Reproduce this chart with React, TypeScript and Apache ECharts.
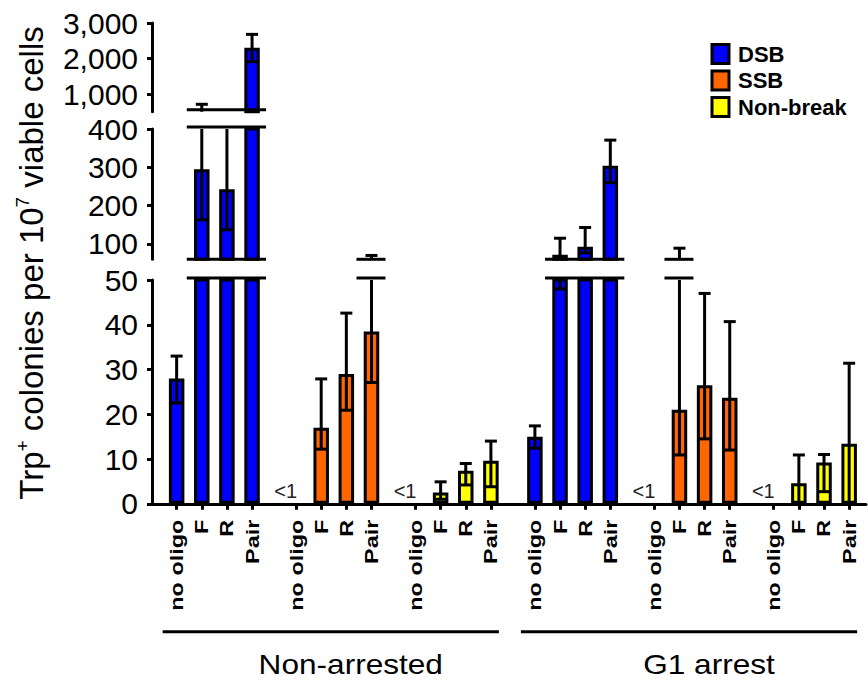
import React, { useEffect, useRef } from 'react';
import * as echarts from 'echarts';

const groups = ['Non-arrested', 'G1 arrest'];
const breakTypes = ['DSB', 'SSB', 'Non-break'];
const oligoLabels = ['no oligo', 'F', 'R', 'Pair'];
const typeColors = ['#0000FF', '#FF6600', '#FFFF00'];

// 8 entries each: Non-arrested (no oligo, F, R, Pair), then G1 arrest (same order); null = "<1"
const dsbMean = [28, 295, 243, 2300, 15, 72, 93, 304];
const dsbLow = [22.5, 163, 137, 1910, 12.4, 48, 77, 260];
const dsbHigh = [33, 710, 450, 2680, 17.4, 115, 143, 371];
const ssbMean = [null, 17, 29, 38.5, null, 21, 26.5, 23.7];
const ssbLow = [null, 12.2, 20.9, 27.1, null, 10.9, 14.5, 12];
const ssbHigh = [null, 27.9, 42.6, 70, null, 89, 47, 40.7];
const nonBreakMean = [null, 2.5, 7.4, 9.6, null, 4.6, 9.2, 13.4];
const nonBreakLow = [null, 1, 4.2, 3.8, null, 0, 2.7, 0];
const nonBreakHigh = [null, 4.9, 9, 14, null, 10.9, 11, 31.4];

const belowLabel = '<1';
const topTicks = [1000, 2000, 3000];
const midTicks = [100, 200, 300, 400];
const bottomTicks = [0, 10, 20, 30, 40, 50];

const FONT = '"Liberation Sans", Arial, Helvetica, sans-serif';

type Item = { x: number; mean: number | null; low: number | null; high: number | null; ti: number; gi: number; oi: number };

const tables = [
  { mean: dsbMean, low: dsbLow, high: dsbHigh },
  { mean: ssbMean, low: ssbLow, high: ssbHigh },
  { mean: nonBreakMean, low: nonBreakLow, high: nonBreakHigh },
];

const BLOCK_STEP = 4.75;
const items: Item[] = [];
groups.forEach((_g, gi) =>
  breakTypes.forEach((_t, ti) =>
    oligoLabels.forEach((_o, oi) => {
      const k = gi * 4 + oi;
      items.push({
        x: (gi * 3 + ti) * BLOCK_STEP + oi,
        mean: tables[ti].mean[k],
        low: tables[ti].low[k],
        high: tables[ti].high[k],
        ti,
        gi,
        oi,
      });
    })
  )
);

// segment ranges: 0 = top, 1 = middle, 2 = bottom
const segments = [
  { min: 500, max: 3000, top: 23, height: 88.75, ticks: topTicks },
  { min: 60, max: 400, top: 129, height: 130.3, ticks: midTicks },
  { min: 0, max: 50, top: 280, height: 223.75, ticks: bottomTicks },
];

const X_MIN = -0.98;
const X_MAX = 27.42;

function runsAbove(threshold: number): number[][] {
  const runs: number[][] = [];
  for (let b = 0; b < 6; b++) {
    let start: Item | null = null;
    let last: Item | null = null;
    for (let oi = 0; oi < 4; oi++) {
      const it = items[b * 4 + oi];
      const ext = Math.max(it.mean ?? 0, it.high ?? 0);
      if (ext > threshold) {
        if (!start) start = it;
        last = it;
      } else if (start && last) {
        runs.push([start.x, last.x]);
        start = null;
        last = null;
      }
    }
    if (start && last) runs.push([start.x, last.x]);
  }
  return runs;
}

function buildOption() {
  const grids = segments.map((s) => ({
    left: 152,
    right: 2,
    top: s.top,
    height: s.height,
    containLabel: false,
    outerBoundsMode: 'none',
  }));

  const xAxes = segments.map((_s, si) => ({
    type: 'value',
    gridIndex: si,
    min: X_MIN,
    max: X_MAX,
    show: si === 2,
    axisLine: { show: true, onZero: false, lineStyle: { color: '#000', width: 3 } },
    axisTick: {
      show: true,
      customValues: items.map((it) => it.x),
      length: 6,
      lineStyle: { color: '#000', width: 3 },
    },
    axisLabel: { show: false },
    splitLine: { show: false },
  }));

  const yAxes = segments.map((s, si) => ({
    type: 'value',
    gridIndex: si,
    min: s.min,
    max: s.max,
    axisLine: { show: true, onZero: false, lineStyle: { color: '#000', width: 3 } },
    axisTick: { show: true, customValues: s.ticks, length: 5, lineStyle: { color: '#000', width: 3 } },
    axisLabel: {
      customValues: s.ticks,
      formatter: (v: number) => v.toLocaleString('en-US'),
      fontSize: 30,
      fontFamily: FONT,
      color: '#000',
      margin: 14,
    },
    splitLine: { show: false },
  }));

  const series: any[] = [];

  segments.forEach((seg, si) => {
    breakTypes.forEach((name, ti) => {
      series.push({
        type: 'bar',
        name,
        xAxisIndex: si,
        yAxisIndex: si,
        barWidth: 15.5,
        barGap: '-100%',
        clip: true,
        silent: true,
        z: 2,
        itemStyle: { color: typeColors[ti], borderColor: '#000', borderWidth: 3 },
        data: items.filter((it) => it.ti === ti && it.mean != null).map((it) => [it.x, it.mean]),
      });
    });

    // error bars
    series.push({
      type: 'custom',
      xAxisIndex: si,
      yAxisIndex: si,
      silent: true,
      z: 3,
      encode: { x: 0, y: [1, 2] },
      data: items.filter((it) => it.mean != null).map((it) => [it.x, it.low, it.high]),
      renderItem: (_params: any, api: any) => {
        const x = api.value(0);
        const lo = api.value(1);
        const hi = api.value(2);
        const a = Math.max(lo, seg.min);
        const b = Math.min(hi, seg.max);
        if (!(b > a)) return null;
        const pA = api.coord([x, a]);
        const pB = api.coord([x, b]);
        const st = { stroke: '#000', lineWidth: 3 };
        const children: any[] = [
          { type: 'line', shape: { x1: pA[0], y1: pA[1], x2: pB[0], y2: pB[1] }, style: st },
        ];
        if (hi <= seg.max && hi >= seg.min) {
          children.push({ type: 'line', shape: { x1: pB[0] - 6, y1: pB[1], x2: pB[0] + 6, y2: pB[1] }, style: st });
        }
        if (lo > seg.min && lo <= seg.max) {
          children.push({ type: 'line', shape: { x1: pA[0] - 6, y1: pA[1], x2: pA[0] + 6, y2: pA[1] }, style: st });
        }
        return { type: 'group', children };
      },
    });
  });

  // break marks between segments
  const boundaries = [
    { lower: 2, upper: 1 },
    { lower: 1, upper: 0 },
  ];
  boundaries.forEach(({ lower, upper }) => {
    const runs = runsAbove(segments[lower].max);
    const sides = [
      { si: lower, v: segments[lower].max, dy: -2 },
      { si: upper, v: segments[upper].min, dy: upper === 0 ? -2 : 0 },
    ];
    sides.forEach((side) => {
      series.push({
        type: 'custom',
        xAxisIndex: side.si,
        yAxisIndex: side.si,
        silent: true,
        z: 4,
        encode: { x: [0, 1], y: 2 },
        data: runs.map((r) => [r[0], r[1], side.v]),
        renderItem: (_p: any, api: any) => {
          const p1 = api.coord([api.value(0), api.value(2)]);
          const p2 = api.coord([api.value(1), api.value(2)]);
          return {
            type: 'line',
            shape: { x1: p1[0] - 15, y1: p1[1] + side.dy, x2: p2[0] + 14, y2: p2[1] + side.dy },
            style: { stroke: '#000', lineWidth: 3 },
          };
        },
      });
    });
  });

  // "<1" labels
  series.push({
    type: 'custom',
    xAxisIndex: 2,
    yAxisIndex: 2,
    silent: true,
    z: 5,
    encode: { x: 0, y: 1 },
    data: items.filter((it) => it.mean == null).map((it) => [it.x, 0]),
    renderItem: (_p: any, api: any) => {
      const p = api.coord([api.value(0), api.value(1)]);
      return {
        type: 'text',
        x: p[0] + 1,
        y: p[1] - 13,
        style: {
          text: belowLabel,
          align: 'right',
          verticalAlign: 'middle',
          fontSize: 20,
          fontFamily: FONT,
          fill: '#222',
        },
      };
    },
  });

  // category labels
  series.push({
    type: 'custom',
    xAxisIndex: 2,
    yAxisIndex: 2,
    silent: true,
    z: 5,
    encode: { x: 0, y: 1 },
    data: items.map((it) => [it.x, 0, it.oi]),
    renderItem: (_p: any, api: any) => {
      const p = api.coord([api.value(0), api.value(1)]);
      return {
        type: 'text',
        x: p[0],
        y: p[1] + 16,
        rotation: Math.PI / 2,
        scaleX: 1.3,
        style: {
          text: oligoLabels[api.value(2)],
          align: 'right',
          verticalAlign: 'middle',
          fontSize: 18,
          fontWeight: 'bold',
          fontFamily: FONT,
          fill: '#000',
        },
      };
    },
  });

  // group underlines and names
  series.push({
    type: 'custom',
    xAxisIndex: 2,
    yAxisIndex: 2,
    silent: true,
    z: 5,
    encode: { x: [0, 1], y: 2 },
    data: groups.map((_g, gi) => {
      const gItems = items.filter((it) => it.gi === gi);
      return [gItems[0].x, gItems[gItems.length - 1].x, 0];
    }),
    renderItem: (params: any, api: any) => {
      const p1 = api.coord([api.value(0), api.value(2)]);
      const p2 = api.coord([api.value(1), api.value(2)]);
      const x1 = p1[0] - 14;
      const x2 = p2[0] + 8;
      return {
        type: 'group',
        children: [
          {
            type: 'line',
            shape: { x1, y1: p1[1] + 128, x2, y2: p1[1] + 128 },
            style: { stroke: '#000', lineWidth: 3 },
          },
          {
            type: 'text',
            x: (x1 + x2) / 2 + 20,
            y: p1[1] + 161,
            scaleX: 1.17,
            style: {
              text: groups[params.dataIndex],
              align: 'center',
              verticalAlign: 'middle',
              fontSize: 27,
              fontFamily: FONT,
              fill: '#000',
            },
          },
        ],
      };
    },
  });

  return {
    animation: false,
    backgroundColor: '#fff',
    textStyle: { fontFamily: FONT },
    grid: grids,
    xAxis: xAxes,
    yAxis: yAxes,
    legend: {
      data: breakTypes,
      orient: 'vertical',
      left: 710.5,
      top: 43,
      padding: 0,
      icon: 'rect',
      itemWidth: 17,
      itemHeight: 19,
      itemGap: 4.5,
      selectedMode: false,
      itemStyle: { borderColor: '#000', borderWidth: 3 },
      textStyle: {
        fontSize: 22,
        fontWeight: 'bold',
        fontFamily: FONT,
        color: '#000',
        padding: [0, 0, 0, 4],
      },
    },
    graphic: [
      {
        type: 'text',
        x: 31,
        y: 263,
        rotation: Math.PI / 2,
        style: {
          text: '{a|Trp}{s|+}{a| colonies per 10}{s|7}{a| viable cells}',
          align: 'center',
          verticalAlign: 'middle',
          fill: '#000',
          rich: {
            a: { fontSize: 33, fontFamily: FONT, lineHeight: 36, fill: '#000' },
            s: { fontSize: 19, fontFamily: FONT, verticalAlign: 'top', lineHeight: 36, fill: '#000' },
          },
        },
      },
    ],
    series,
  };
}

export default function App() {
  const ref = useRef<HTMLDivElement>(null);
  useEffect(() => {
    if (!ref.current) return;
    const chart = echarts.init(ref.current, undefined, { renderer: 'svg' });
    chart.setOption(buildOption() as any);
    return () => chart.dispose();
  }, []);
  return (
    <div
      ref={ref}
      style={{ position: 'fixed', left: 0, top: 0, width: 868, height: 680, background: '#fff' }}
    />
  );
}
